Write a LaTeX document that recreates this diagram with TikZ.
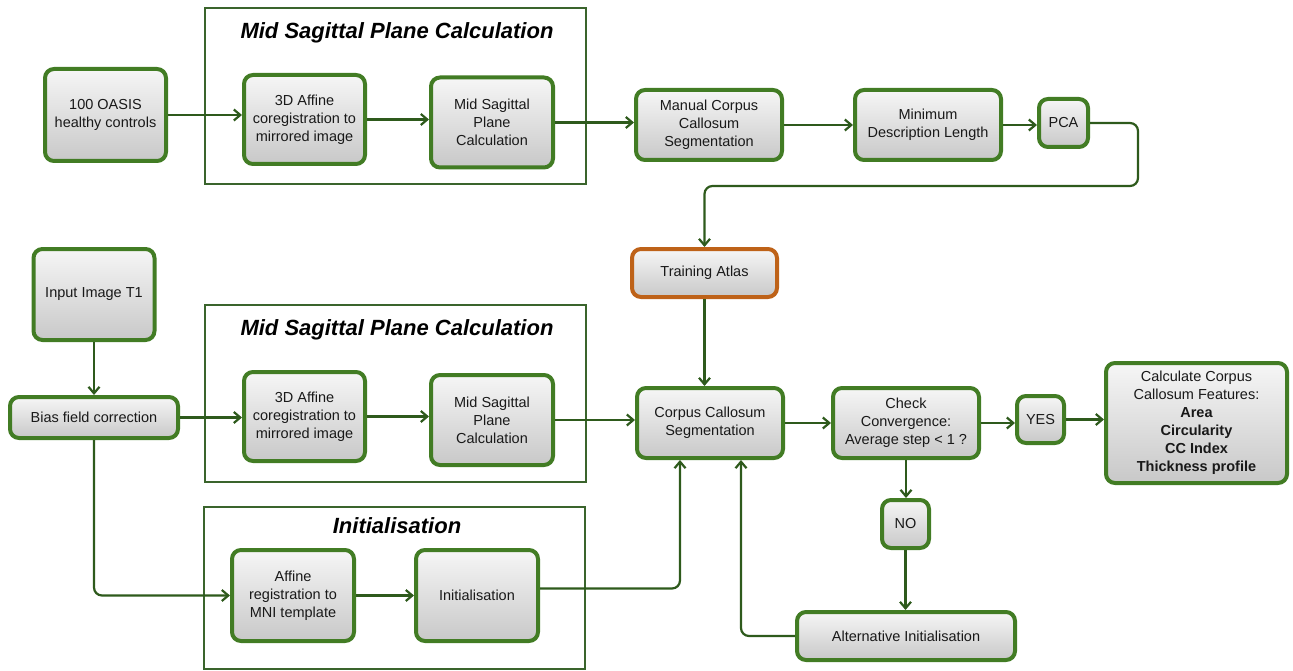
\documentclass[tikz,border=0pt]{standalone}
\usepackage{fontspec}
\setmainfont{Liberation Sans}
\usetikzlibrary{arrows.meta,calc}
\definecolor{boxgreen}{RGB}{66,124,36}
\definecolor{arrgreen}{RGB}{46,90,28}
\definecolor{grpgreen}{RGB}{58,100,44}
\definecolor{atlasorange}{RGB}{190,98,24}
\definecolor{filltop}{RGB}{246,246,246}
\definecolor{fillbot}{RGB}{200,200,200}
\tikzset{
  proc/.style={draw=boxgreen, line width=4pt, rounded corners=9pt,
    top color=filltop, bottom color=fillbot, align=center, inner sep=1pt,
    font=\fontsize{14.5}{18}\selectfont, text=black!90},
  grp/.style={draw=grpgreen, line width=1.8pt, inner sep=0pt},
  grptitle/.style={font=\fontsize{22}{25}\selectfont\bfseries\itshape, text=black},
  arr/.style={-{Straight Barb[length=6.5pt,width=11pt,line width=2.2pt]}, line width=2.2pt, draw=arrgreen},
}
\begin{document}
\begin{tikzpicture}[x=1pt,y=-1pt]
\useasboundingbox (0,0) rectangle (1293,671);
% group boxes
\node[grp, minimum width=381pt, minimum height=176pt] (grp1) at (395.5,96) {};
\node[grp, minimum width=381pt, minimum height=177pt] (grp2) at (395.5,393.5) {};
\node[grp, minimum width=381pt, minimum height=162pt] (grp3) at (394.5,588) {};
\node[grptitle] (t1) at (397,33) {Mid Sagittal Plane Calculation};
\node[grptitle] (t2) at (397,330) {Mid Sagittal Plane Calculation};
\node[grptitle] (t3) at (397,526) {Initialisation};
% top row
\node[proc, minimum width=121pt, minimum height=92pt] (oasis) at (105.5,115) {100 OASIS\\healthy controls};
\node[proc, minimum width=121pt, minimum height=89pt] (aff1) at (304.5,119.5) {3D Affine\\coregistration to\\mirrored image};
\node[proc, minimum width=122pt, minimum height=90pt] (msp1) at (492,122.5) {Mid Sagittal\\Plane\\Calculation};
\node[proc, minimum width=146pt, minimum height=70pt] (manual) at (709,125) {Manual Corpus\\Callosum\\Segmentation};
\node[proc, minimum width=146pt, minimum height=70pt] (mdl) at (928,125) {Minimum\\Description Length};
\node[proc, minimum width=49pt, minimum height=48pt] (pca) at (1063.5,123) {PCA};
\node[proc, draw=atlasorange, minimum width=145pt, minimum height=48pt] (atlas) at (704.5,273) {Training Atlas};
% lower part
\node[proc, minimum width=121pt, minimum height=91pt] (input) at (94,294.5) {Input Image T1};
\node[proc, minimum width=168pt, minimum height=41pt] (bias) at (94,417.5) {Bias field correction};
\node[proc, minimum width=121pt, minimum height=89pt] (aff2) at (304.5,416.5) {3D Affine\\coregistration to\\mirrored image};
\node[proc, minimum width=122pt, minimum height=90pt] (msp2) at (492,420) {Mid Sagittal\\Plane\\Calculation};
\node[proc, minimum width=146pt, minimum height=70pt] (ccs) at (710,423) {Corpus Callosum\\Segmentation};
\node[proc, minimum width=146pt, minimum height=70pt] (check) at (906,423) {Check\\Convergence:\\Average step < 1 ?};
\node[proc, minimum width=47pt, minimum height=47pt] (yes) at (1040.5,419.5) {YES};
\node[proc, minimum width=181pt, minimum height=120pt] (calc) at (1196.5,423) {Calculate Corpus\\Callosum Features:\\\textbf{Area}\\\textbf{Circularity}\\\textbf{CC Index}\\\textbf{Thickness profile}};
\node[proc, minimum width=47pt, minimum height=48pt] (no) at (905.5,524) {NO};
\node[proc, minimum width=218pt, minimum height=48pt] (alt) at (906,636) {Alternative Initialisation};
\node[proc, minimum width=122pt, minimum height=91pt] (affreg) at (293,595.5) {Affine\\registration to\\MNI template};
\node[proc, minimum width=122pt, minimum height=91pt] (init) at (477,595.5) {Initialisation};
% coordinates for bends
\coordinate (c1) at (1138,186);
% connectors
\draw[arr] (oasis.east) -- (aff1.west |- oasis.east);
\draw[arr] (aff1.east) -- (msp1.west |- aff1.east);
\draw[arr] (msp1.east) -- (manual.west |- msp1.east);
\draw[arr] (manual.east) -- (mdl.west |- manual.east);
\draw[arr] (mdl.east) -- (pca.west |- mdl.east);
\draw[arr, rounded corners=8pt] (pca.east) -| (c1) -| (atlas.north);
\draw[arr] (input.south) -- (bias.north);
\draw[arr] (bias.east) -- (aff2.west |- bias.east);
\draw[arr] (aff2.east) -- (msp2.west |- aff2.east);
\draw[arr] (msp2.east) -- (ccs.west |- msp2.east);
\draw[arr, rounded corners=8pt] (bias.south) |- (affreg.west);
\draw[arr] (affreg.east) -- (init.west |- affreg.east);
\draw[arr, rounded corners=8pt] ([yshift=7pt]init.east) -| ([xshift=-30pt]ccs.south);
\draw[arr] (atlas.south) -- (atlas.south |- ccs.north);
\draw[arr] (ccs.east) -- (check.west |- ccs.east);
\draw[arr] (check.east) -- (yes.west |- check.east);
\draw[arr] (yes.east) -- (calc.west |- yes.east);
\draw[arr] (check.south) -- (check.south |- no.north);
\draw[arr] (no.south) -- (no.south |- alt.north);
\draw[arr, rounded corners=8pt] (alt.west) -| ([xshift=31pt]ccs.south);
\end{tikzpicture}
\end{document}
